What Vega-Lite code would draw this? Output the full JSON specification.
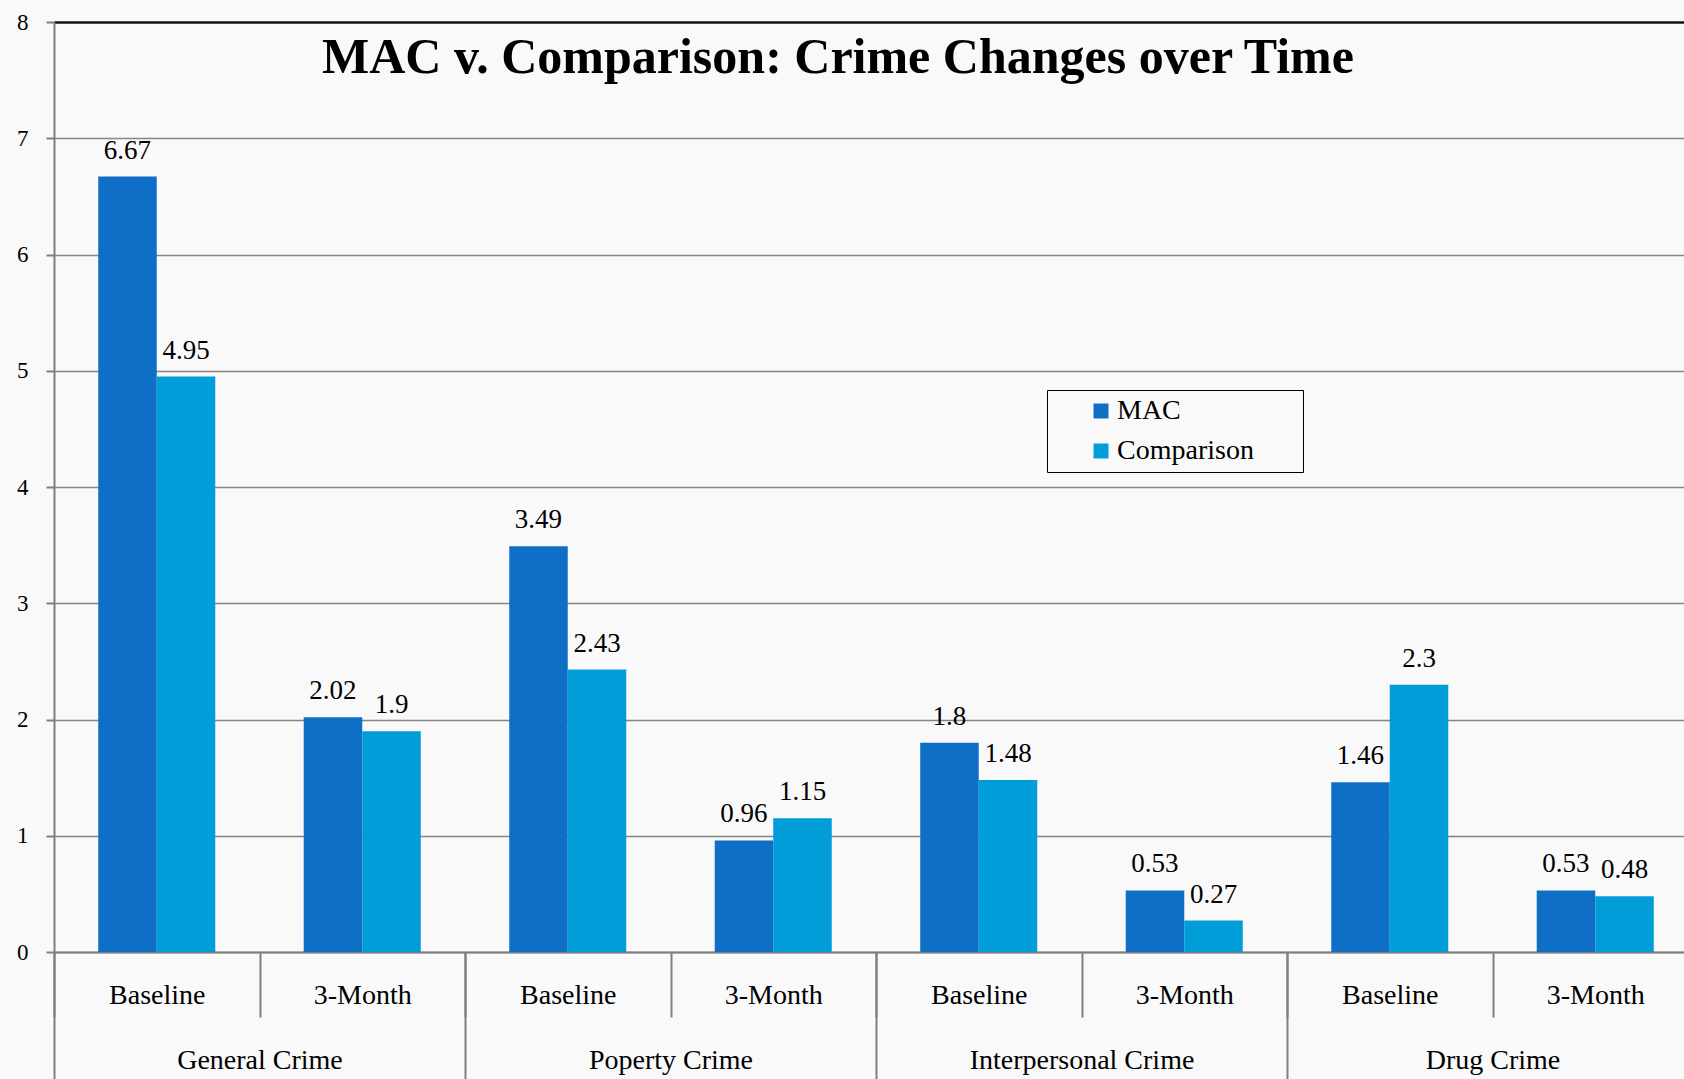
{
  "$schema": "https://vega.github.io/schema/vega-lite/v6.json",
  "autosize": {"type": "none"},
  "width": 1630,
  "height": 930,
  "padding": {"left": 54, "top": 22, "right": 0, "bottom": 127},
  "background": "#f9f9f9",
  "config": {
    "view": {"stroke": null},
    "font": "Liberation Serif"
  },
  "title": {
    "text": "MAC v. Comparison: Crime Changes over Time",
    "font": "Liberation Serif",
    "fontSize": 50,
    "fontWeight": "bold",
    "color": "black",
    "anchor": "middle",
    "frame": "group",
    "orient": "top",
    "offset": -112,
    "baseline": "alphabetic",
    "dx": -31
  },
  "data": {
    "values": [
      {"category": "General Crime", "time": "Baseline", "key": "General Crime|Baseline", "series": "MAC", "value": 6.67, "label": "6.67"},
      {"category": "General Crime", "time": "Baseline", "key": "General Crime|Baseline", "series": "Comparison", "value": 4.95, "label": "4.95"},
      {"category": "General Crime", "time": "3-Month", "key": "General Crime|3-Month", "series": "MAC", "value": 2.02, "label": "2.02"},
      {"category": "General Crime", "time": "3-Month", "key": "General Crime|3-Month", "series": "Comparison", "value": 1.9, "label": "1.9"},
      {"category": "Poperty Crime", "time": "Baseline", "key": "Poperty Crime|Baseline", "series": "MAC", "value": 3.49, "label": "3.49"},
      {"category": "Poperty Crime", "time": "Baseline", "key": "Poperty Crime|Baseline", "series": "Comparison", "value": 2.43, "label": "2.43"},
      {"category": "Poperty Crime", "time": "3-Month", "key": "Poperty Crime|3-Month", "series": "MAC", "value": 0.96, "label": "0.96"},
      {"category": "Poperty Crime", "time": "3-Month", "key": "Poperty Crime|3-Month", "series": "Comparison", "value": 1.15, "label": "1.15"},
      {"category": "Interpersonal Crime", "time": "Baseline", "key": "Interpersonal Crime|Baseline", "series": "MAC", "value": 1.8, "label": "1.8"},
      {"category": "Interpersonal Crime", "time": "Baseline", "key": "Interpersonal Crime|Baseline", "series": "Comparison", "value": 1.48, "label": "1.48"},
      {"category": "Interpersonal Crime", "time": "3-Month", "key": "Interpersonal Crime|3-Month", "series": "MAC", "value": 0.53, "label": "0.53"},
      {"category": "Interpersonal Crime", "time": "3-Month", "key": "Interpersonal Crime|3-Month", "series": "Comparison", "value": 0.27, "label": "0.27"},
      {"category": "Drug Crime", "time": "Baseline", "key": "Drug Crime|Baseline", "series": "MAC", "value": 1.46, "label": "1.46"},
      {"category": "Drug Crime", "time": "Baseline", "key": "Drug Crime|Baseline", "series": "Comparison", "value": 2.3, "label": "2.3"},
      {"category": "Drug Crime", "time": "3-Month", "key": "Drug Crime|3-Month", "series": "MAC", "value": 0.53, "label": "0.53"},
      {"category": "Drug Crime", "time": "3-Month", "key": "Drug Crime|3-Month", "series": "Comparison", "value": 0.48, "label": "0.48"}
    ]
  },
  "layer": [
    {
      "mark": {"type": "bar"},
      "encoding": {
        "x": {
          "field": "key", "type": "nominal", "sort": null,
          "scale": {"range": [0, 1644], "paddingInner": 0, "paddingOuter": 0},
          "axis": {
            "title": null, "orient": "bottom",
            "labelExpr": "split(datum.value, '|')[1]",
            "tickBand": "extent", "tickSize": 65, "tickColor": "#7f7f7f", "tickWidth": 2,
            "domainColor": "#7f7f7f", "domainWidth": 2,
            "labelFont": "Liberation Serif", "labelFontSize": 28, "labelColor": "black",
            "labelBaseline": "middle", "labelPadding": -22, "labelAngle": 0, "labelLimit": 400,
            "grid": false
          }
        },
        "xOffset": {
          "field": "series", "type": "nominal", "sort": ["MAC", "Comparison"],
          "scale": {"paddingInner": 0, "paddingOuter": 0.756}
        },
        "y": {
          "field": "value", "type": "quantitative",
          "scale": {"domain": [0, 8], "nice": false},
          "axis": {
            "title": null, "values": [0, 1, 2, 3, 4, 5, 6, 7, 8], "format": "d",
            "tickSize": 8, "tickColor": "#7f7f7f", "tickWidth": 2,
            "domainColor": "#7f7f7f", "domainWidth": 2,
            "labelFont": "Liberation Serif", "labelFontSize": 23, "labelColor": "black",
            "labelPadding": 18,
            "grid": true,
            "gridColor": {"condition": {"test": "datum.value === 8", "value": "#111111"}, "value": "#858585"},
            "gridWidth": {"condition": {"test": "datum.value === 8", "value": 2.5}, "value": 1.3}
          }
        },
        "color": {
          "field": "series", "type": "nominal",
          "scale": {"domain": ["MAC", "Comparison"], "range": ["#0F6FC6", "#009DD9"]},
          "legend": {
            "title": null, "orient": "none", "legendX": 993, "legendY": 368,
            "strokeColor": "black", "padding": 7,
            "symbolType": "square", "symbolSize": 225, "symbolStrokeWidth": 0, "symbolOpacity": 1,
            "symbolOffset": 33,
            "labelFont": "Liberation Serif", "labelFontSize": 28, "labelColor": "black",
            "labelOffset": 2, "rowPadding": 12, "labelLimit": 500,
            "labelExpr": "datum.label + '\u00a0\u00a0\u00a0\u00a0\u00a0\u00a0\u200b'"
          }
        }
      }
    },
    {
      "mark": {"type": "text", "font": "Liberation Serif", "fontSize": 27, "color": "black", "baseline": "alphabetic", "dy": -18},
      "encoding": {
        "x": {"field": "key", "type": "nominal", "sort": null, "scale": {"range": [0, 1644], "paddingInner": 0, "paddingOuter": 0}, "axis": null},
        "xOffset": {"field": "series", "type": "nominal", "sort": ["MAC", "Comparison"]},
        "y": {"field": "value", "type": "quantitative"},
        "text": {"field": "label", "type": "nominal"}
      }
    },
    {
      "mark": {"type": "rule", "opacity": 0},
      "encoding": {
        "x": {
          "field": "category", "type": "nominal", "sort": null,
          "scale": {"range": [0, 1644], "paddingInner": 0, "paddingOuter": 0},
          "axis": {
            "title": null, "orient": "bottom", "domain": false,
            "tickBand": "extent", "tickSize": 130, "tickColor": "#7f7f7f", "tickWidth": 2,
            "labelFont": "Liberation Serif", "labelFontSize": 28, "labelColor": "black",
            "labelBaseline": "middle", "labelPadding": -22, "labelAngle": 0, "labelLimit": 400,
            "grid": false
          }
        }
      }
    }
  ],
  "resolve": {"scale": {"x": "independent"}}
}
